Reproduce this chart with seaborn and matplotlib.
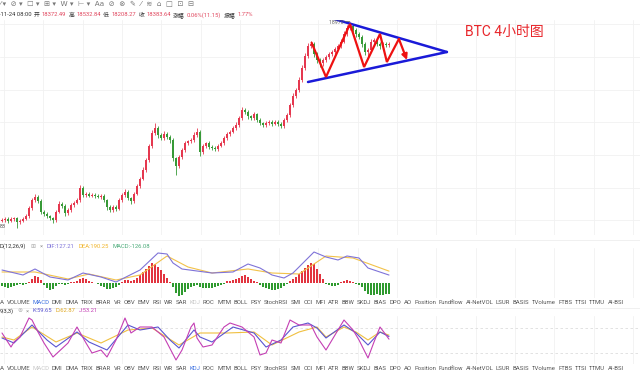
import numpy as np
import pandas as pd
import matplotlib
matplotlib.use("Agg")
import matplotlib.pyplot as plt
import seaborn as sns

# ---------------- data ----------------
first_open = 13680
closes = [13703, 13730, 13677, 13730, 13756, 13650, 13677, 13730, 13810, 14022,
          14235, 14315, 14209, 13916, 13863, 13810, 13756, 13703, 13916, 14129,
          14076, 13889, 13969, 14102, 14156, 14235, 14554, 14368, 14395, 14342,
          14368, 14342, 14315, 14342, 14235, 14049, 13969, 14049, 13996, 14235,
          14368, 14448, 14288, 14209, 14395, 14608, 14794, 15033, 15299, 15672,
          16017, 16150, 15964, 15884, 15991, 15911, 15831, 15352, 15140, 15379,
          15565, 15751, 15804, 15831, 15964, 16044, 15512, 15672, 15751, 15645,
          15618, 15592, 15672, 15751, 15884, 15991, 16044, 16150, 16230, 16416,
          16629, 16576, 16469, 16416, 16522, 16363, 16283, 16230, 16283, 16310,
          16257, 16310, 16257, 16203, 16363, 16496, 16762, 17002, 17161, 17427,
          17746, 18066, 18332, 18385, 18119, 17959, 17879, 17959, 18039, 18119,
          18172, 18252, 18332, 18438, 18651, 18810, 18864, 18757, 18651, 18571,
          18385, 18172, 18225, 18438, 18491, 18385, 18332, 18385, 18358, 18384]
upper_wick = [40, 50, 40, 60, 40, 30, 50, 40, 60, 50,
              60, 80, 50, 40, 50, 40, 30, 40, 60, 70,
              50, 40, 60, 50, 40, 60, 90, 50, 60, 40,
              50, 40, 40, 50, 40, 30, 40, 50, 40, 60,
              60, 70, 50, 40, 60, 60, 50, 70, 60, 60,
              80, 130, 60, 50, 70, 50, 40, 40, 40, 60,
              50, 60, 40, 50, 70, 100, 60, 50, 40, 50,
              40, 50, 40, 60, 50, 60, 50, 60, 70, 60,
              80, 60, 50, 40, 60, 40, 50, 40, 50, 40,
              50, 40, 50, 40, 40, 60, 60, 70, 60, 80,
              90, 80, 70, 90, 60, 50, 40, 60, 50, 60,
              50, 60, 50, 70, 80, 70, 106, 60, 50, 60,
              40, 40, 60, 70, 60, 50, 60, 50, 40, 50]
lower_wick = [40, 50, 60, 40, 50, 160, 50, 40, 40, 50,
              40, 50, 60, 60, 50, 60, 50, 90, 60, 40,
              50, 70, 50, 40, 50, 40, 50, 60, 50, 40,
              40, 50, 40, 60, 50, 70, 60, 50, 60, 40,
              50, 40, 60, 70, 50, 40, 50, 40, 50, 60,
              50, 60, 80, 60, 50, 60, 70, 90, 240, 60,
              50, 40, 60, 50, 40, 50, 100, 60, 50, 60,
              60, 50, 50, 40, 50, 40, 50, 40, 50, 40,
              50, 60, 70, 50, 50, 60, 50, 50, 40, 60,
              50, 40, 50, 60, 50, 40, 50, 40, 50, 60,
              60, 50, 60, 50, 70, 80, 100, 90, 60, 50,
              60, 50, 40, 50, 40, 60, 50, 60, 70, 60,
              80, 90, 150, 60, 50, 60, 70, 50, 60, 50]

macd_hist = [-48, -64, -80, -64, -48, -32, -16, -32, -16, 16,
             64, 112, 96, 48, -32, -80, -112, -96, -48, -16,
             -16, -32, -16, 16, 16, 32, 64, 80, 64, 32,
             16, 8, -16, -48, -64, -96, -96, -80, -64, -32,
             16, 48, 48, 32, 48, 80, 128, 176, 224, 272,
             320, 304, 256, 208, 144, 80, 16, -64, -160, -208,
             -192, -144, -96, -64, -48, -32, -64, -80, -80, -80,
             -80, -64, -48, -32, -16, 32, 32, 48, 64, 80,
             112, 128, 96, 64, 32, 16, -32, -64, -80, -96,
             -112, -112, -96, -80, -48, -16, 32, 64, 96, 144,
             192, 240, 288, 320, 304, 224, 144, 64, -16, -32,
             -48, -48, -32, 16, 32, 48, 32, 16, -16, -32,
             -64, -128, -176, -192, -192, -176, -192, -192, -176, -176]
dif_idx = [0, 7, 11, 16, 22, 27, 33, 38, 40, 46, 52, 55, 57, 60, 65, 70, 77, 82,
           86, 90, 94, 97, 104, 108, 112, 115, 119, 122, 129]
dif_val = [208, 128, 224, 96, 48, 160, 96, 16, 64, 208, 480, 464, 320, 224, 192,
           160, 176, 304, 240, 128, 80, 160, 496, 416, 368, 432, 400, 240, 127.21]
dea_idx = [0, 11, 22, 29, 38, 46, 55, 62, 70, 82, 90, 99, 108, 117, 129]
dea_val = [176, 176, 64, 144, 48, 128, 432, 256, 160, 224, 160, 144, 432, 400, 190.25]

j_idx = [0, 3, 4, 6, 9, 10, 12, 14, 17, 22, 25, 28, 30, 33, 35, 38, 41, 43, 46, 50,
         54, 58, 60, 63, 64, 65, 67, 70, 74, 76, 80, 84, 86, 88, 90, 93, 96, 99,
         103, 105, 108, 110, 114, 117, 119, 122, 124, 126, 128, 129]
j_val = [68, 34.4, 46.4, 58.4, 104, 99.2, 70.4, 44, 10.4, 44, 82.4, 44, 20, 27.2,
         10.4, 51.2, 104, 68, 82.4, 82.4, 58.4, 3.2, 27.2, 82.4, 92, 56, 34.4, 39.2,
         82.4, 92, 82.4, 58.4, 15.2, 20, 51.2, 44, 99.2, 87.2, 87.2, 58.4, 27.2,
         51.2, 99.2, 75.2, 51.2, 8, 46.4, 82.4, 63.2, 53.21]
k_idx = [0, 4, 10, 15, 18, 25, 29, 35, 42, 46, 52, 56, 59, 64, 66, 70, 77, 84, 88,
         93, 97, 102, 105, 108, 114, 118, 122, 126, 129]
k_val = [56, 44, 87.2, 51.2, 34.4, 70.4, 46.4, 27.2, 87.2, 75.2, 82.4, 51.2, 32,
         75.2, 58.4, 46.4, 82.4, 68, 34.4, 51.2, 82.4, 92, 80, 56, 87.2, 68, 39.2,
         70.4, 59.65]
d_idx = [0, 4, 10, 18, 25, 33, 42, 50, 59, 66, 75, 84, 90, 99, 105, 108, 114, 118,
         122, 126, 129]
d_val = [58.4, 51.2, 82.4, 46.4, 68, 44, 75.2, 80, 39.2, 68, 68, 70.4, 39.2, 70.4,
         82.4, 58.4, 82.4, 70.4, 51.2, 70.4, 62.87]

# hand-drawn annotations (candle index, price)
tri_upper_idx = [110.7, 148.3]
tri_upper_px = [19050, 18172]
tri_lower_idx = [102.0, 148.3]
tri_lower_px = [17374, 18172]
zig_idx = [103.2, 108.0, 116.0, 120.7, 126.0, 128.3, 132.3]
zig_px = [18419, 17507, 18917, 17773, 18651, 17906, 18518]
arrow_end = (135.0, 17959)

info_items = [("-11-24 08:00", "k"), ("开", "k"), ("18372.49", "r"), ("高", "k"),
              ("18532.84", "r"), ("低", "k"), ("18208.27", "r"), ("收", "k"),
              ("18383.64", "r"), ("涨幅", "k"), ("0.06%(11.15)", "r"), ("振幅", "k"),
              ("1.77%", "r")]
tabs = ["A", "VOLUME", "MACD", "DMI", "DMA", "TRIX", "BRAR", "VR", "OBV", "EMV", "RSI",
        "WR", "SAR", "KDJ", "ROC", "MTM", "BOLL", "PSY", "StochRSI", "SMI", "CCI", "MFI",
        "ATR", "BBW", "SKDJ", "BIAS", "DPO", "AO", "Position", "Fundflow", "AI-NetVOL",
        "LSUR", "BASIS", "TVolume", "FTBS", "TTSI", "TTMU", "AI-BSI"]
title_text = "BTC 4小时图"
high_label = "18970"

# ---------------- style ----------------
sns.set_theme(style="white")
plt.rcParams['font.family'] = ['Roboto', 'Noto Sans CJK SC', 'DejaVu Sans']

RED = '#e5384f'
GREEN = '#379a37'
GRID = '#f1f1f1'
W, H = 640, 376

fig = plt.figure(figsize=(6.4, 3.76), dpi=100)
fig.patch.set_facecolor('white')


def rect(top, bottom):
    return [0, 1 - bottom / H, 1, (bottom - top) / H]


ax = fig.add_axes(rect(20, 235))
axm = fig.add_axes(rect(248, 298))
axk = fig.add_axes(rect(316, 364))

n = len(closes)
idx = np.arange(n)
xlim = (-2 / 3, 638 / 3)
vgrid = [(4 + 39.3 * k - 2) / 3 for k in range(17)]

for a in (ax, axm, axk):
    a.set_xlim(*xlim)
    for s in a.spines.values():
        s.set_visible(False)
    a.set_xticks([])
    a.set_yticks([])
    a.set_facecolor('none')
    for v in vgrid:
        a.axvline(v, color=GRID, lw=0.6, zorder=0)

# ---- main candles ----
ax.set_ylim(13304, 19023)
for p in [18917, 18039, 17161, 16310, 15432, 14554, 13703]:
    ax.axhline(p, color=GRID, lw=0.6, zorder=0)
o = np.array([first_open] + closes[:-1], dtype=float)
c = np.array(closes, dtype=float)
hi = np.maximum(o, c) + np.array(upper_wick)
lo = np.minimum(o, c) - np.array(lower_wick)
cols = np.where(c >= o, RED, GREEN)
ax.vlines(idx, lo, hi, colors=cols, lw=0.6, zorder=2)
ax.bar(idx, np.maximum(np.abs(c - o), 18), bottom=np.minimum(o, c), width=0.62,
       color=cols, linewidth=0, zorder=3)

# annotations
BLUE = '#1a1ad8'
ax.plot(tri_upper_idx, tri_upper_px, color=BLUE, lw=1.8, zorder=5, solid_capstyle='round')
ax.plot(tri_lower_idx, tri_lower_px, color=BLUE, lw=1.8, zorder=5, solid_capstyle='round')
ax.plot(zig_idx, zig_px, color='#ee1111', lw=1.6, zorder=6, solid_joinstyle='miter')
ax.annotate("", xy=arrow_end, xytext=(zig_idx[-1], zig_px[-1]),
            arrowprops=dict(arrowstyle='-|>', color='#ee1111', lw=1.6,
                            mutation_scale=8, shrinkA=0, shrinkB=0), zorder=6)

# ---- MACD ----
axm.set_ylim(-240, 560)
hcols = np.where(np.array(macd_hist) >= 0, '#e2343f', '#2f9a2f')
axm.bar(idx, macd_hist, width=0.5, color=hcols, linewidth=0, zorder=2)
sns.lineplot(x=dea_idx, y=dea_val, ax=axm, color='#f2c24a', lw=0.8, legend=False, zorder=3)
sns.lineplot(x=dif_idx, y=dif_val, ax=axm, color='#7f73d8', lw=0.8, legend=False, zorder=4)
axm.set_xlabel(''); axm.set_ylabel('')

# ---- KDJ ----
axk.set_ylim(-6.4, 108.8)
for lv in (80, 20):
    axk.axhline(lv, color='#dddddd', lw=0.6, ls=(0, (3, 3)), zorder=0)
sns.lineplot(x=d_idx, y=d_val, ax=axk, color='#f0c040', lw=0.8, legend=False, zorder=3)
sns.lineplot(x=k_idx, y=k_val, ax=axk, color='#5a55d0', lw=0.8, legend=False, zorder=4)
sns.lineplot(x=j_idx, y=j_val, ax=axk, color='#c43fb4', lw=0.8, legend=False, zorder=5)
axk.set_xlabel(''); axk.set_ylabel('')

# separators
for yy in (240, 308):
    fig.add_artist(plt.Line2D([0, 1], [1 - yy / H] * 2, color='#eeeeee', lw=0.6))

# ---------------- texts ----------------
renderer = fig.canvas.get_renderer()


def ftext(x, y, s, **kw):
    kw.setdefault('va', 'center')
    kw.setdefault('ha', 'left')
    return fig.text(x / W, 1 - y / H, s, **kw)


def row(items, x0, y, gap, fs):
    x = x0
    for s, col in items:
        t = ftext(x, y, s, color=col, fontsize=fs)
        x += t.get_window_extent(renderer).width + gap


# toolbar (clipped at top)
ftext(-1, 4, "⁄ ▾  ⊘ ▾  ☐ ▾  ⊞ ▾  W ▾  ⊢ ▾  Aa  ⊘  ⊗  ✎  ⁄  ≋  ⌂  □  ⊡  ⊟",
      fontsize=5.2, color='#777777', family=['DejaVu Sans'])

# info line
cmap = {"k": "#333333", "r": "#e0475e"}
row([(s, cmap[k]) for s, k in info_items], -1, 15, 2.2, 4.2)

ftext(0, 226, "83", fontsize=4, color='#555555')
ftext(329, 22, high_label + " ─", fontsize=3.8, color='#666666')
ftext(465, 32, title_text, fontsize=10, color='#e8252a')

# MACD header
row([("D(12,26,9)", "#333333"), ("⊞", "#aaaaaa"), ("×", "#999999"),
     ("DIF:127.21", "#7f73d8"), ("DEA:190.25", "#f0b429"), ("MACD:-126.08", "#4aaa78")],
    0, 246, 4, 4.2)

# KDJ header
row([("9,3,3)", "#333333"), ("⊚", "#aaaaaa"), ("×", "#999999"),
     ("K:59.65", "#5a55d0"), ("D:62.87", "#e0a820"), ("J:53.21", "#c43fb4")],
    0, 311, 3.5, 4.2)


# indicator tab rows
def tab_row(y, active, muted):
    fs = 4.3
    widths = []
    for s in tabs:
        t = fig.text(0, 0, s, fontsize=fs)
        widths.append(t.get_window_extent(renderer).width)
        t.remove()
    gap = (624 - sum(widths)) / (len(tabs) - 1)
    x = 0
    for s, w in zip(tabs, widths):
        col = '#3b6fe0' if s == active else ('#c8c8c8' if s == muted else '#555555')
        ftext(x, y, s, fontsize=fs, color=col)
        x += w + gap


tab_row(302, "MACD", "KDJ")
tab_row(369, "KDJ", "MACD")

fig.savefig("out.png", dpi=100, facecolor='white')
